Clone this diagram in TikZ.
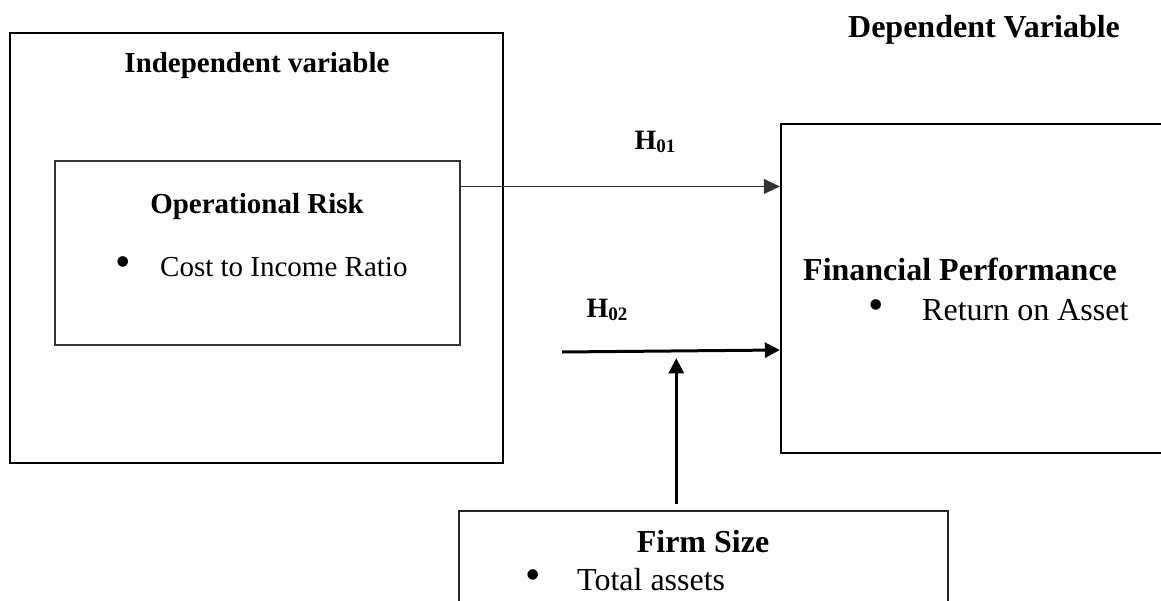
\documentclass[tikz,border=0pt]{standalone}
\usepackage{fontspec}
\setmainfont{Liberation Serif}
\usetikzlibrary{arrows.meta,calc}
\tikzset{
  box/.style={draw=black, rectangle, inner sep=0pt, line width=2.4pt},
  thinbox/.style={draw=black!80, rectangle, inner sep=0pt, line width=1.1pt},
  firmbox/.style={draw=black!85, rectangle, inner sep=0pt, line width=1.5pt},
  lbl/.style={inner sep=0pt, font=\fontsize{32}{38}\selectfont},
  slbl/.style={inner sep=0pt, font=\fontsize{29}{35}\selectfont},
  bul/.style={inner sep=0pt, font=\fontsize{44}{50}\selectfont},
  blbl/.style={inner sep=0pt, font=\fontsize{32}{38}\selectfont\bfseries},
  sblbl/.style={inner sep=0pt, font=\fontsize{29}{35}\selectfont\bfseries},
  hlbl/.style={inner sep=0pt, font=\fontsize{28}{34}\selectfont\bfseries},
  thinarrow/.style={draw=black!80, line width=1.3pt, -{Triangle[length=16pt,width=15pt]}},
  thickarrow/.style={draw=black, line width=3pt, -{Triangle[length=15pt,width=15pt]}},
}
\newcommand{\hsub}[1]{H\raisebox{-0.2ex}{\fontsize{19}{20}\selectfont #1}}
\begin{document}
\begin{tikzpicture}[x=1pt,y=-1pt]
\useasboundingbox (0,0) rectangle (1161,601);
% boxes
\node[box, minimum width=493pt, minimum height=430pt] (outer) at (256.5,248) {};
\node[thinbox, minimum width=405pt, minimum height=184pt] (inner) at (257.5,253) {};
\node[box, minimum width=400pt, minimum height=329pt] (dep) at (981,288.5) {};
\node[firmbox, minimum width=489pt, minimum height=140pt] (firm) at (703.5,581) {};
% texts
\node[sblbl] (indep) at (257,66) {Independent variable};
\node[sblbl] (oprisk) at (257,207) {Operational Risk};
\node[bul] (b1) at (123,267) {\textbullet};
\node[slbl, anchor=west] (cir) at (160,267) {Cost to Income Ratio};
\node[blbl] (deptitle) at (984,30) {Dependent Variable};
\node[blbl, anchor=west] (finperf) at (803,269) {Financial Performance};
\node[bul] (b2) at (876,310) {\textbullet};
\node[lbl, anchor=west] (roa) at (922,310) {Return on Asset};
\node[blbl] (fsize) at (703,542) {Firm Size};
\node[bul] (b3) at (533,580) {\textbullet};
\node[lbl, anchor=west] (tassets) at (577,580) {Total assets};
\node[hlbl] (h01) at (655,142) {\hsub{01}};
\node[hlbl] (h02) at (607,310) {\hsub{02}};
% connectors
\coordinate (h1s) at ($(inner.north east)+(0,26)$);
\draw[thinarrow] (h1s) -- (h1s -| dep.west);
\coordinate (h2s) at ($(outer.east)+(58,104)$);
\coordinate (h2e) at ($(h2s -| dep.west)+(0,-2)$);
\draw[thickarrow] (h2s) -- (h2e);
\coordinate (vs) at ($(firm.north west)+(218,-6)$);
\coordinate (ve) at ($(vs)+(0,-146)$);
\draw[thickarrow] (vs) -- (ve);
\end{tikzpicture}
\end{document}
